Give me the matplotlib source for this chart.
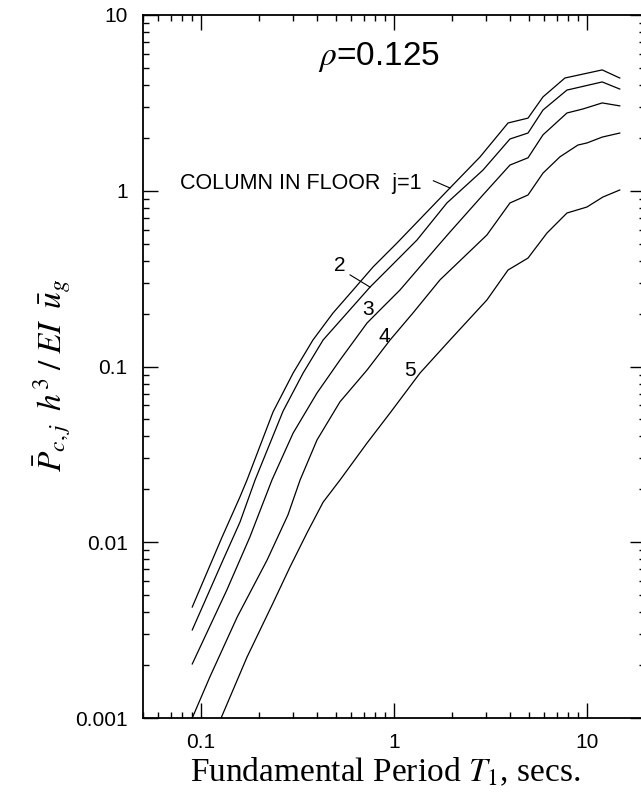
import matplotlib
matplotlib.use("Agg")
import matplotlib.pyplot as plt

# floor j = 1 .. 5
T_1 = [0.090, 0.128, 0.159, 0.173, 0.236, 0.300, 0.380, 0.483, 0.613, 0.778,
       1.036, 1.95, 2.79, 3.90, 4.95, 5.92, 7.69, 12.0, 14.8]
P_1 = [0.00428, 0.0106, 0.0181, 0.0226, 0.0551, 0.0918, 0.1415, 0.2016, 0.272, 0.368,
       0.504, 1.037, 1.556, 2.43, 2.59, 3.42, 4.38, 4.87, 4.38]

T_2 = [0.090, 0.130, 0.159, 0.1905, 0.266, 0.338, 0.429, 0.571, 0.751, 0.954,
       1.316, 1.88, 2.89, 3.99, 4.95, 5.92, 7.88, 12.0, 14.8]
P_2 = [0.00317, 0.00793, 0.0130, 0.0226, 0.0557, 0.0918, 0.1415, 0.2016, 0.283, 0.368,
       0.5245, 0.852, 1.31, 1.97, 2.13, 2.88, 3.74, 4.16, 3.79]

T_3 = [0.090, 0.136, 0.179, 0.233, 0.300, 0.399, 0.525, 0.725, 0.846, 1.074,
       1.670, 1.951, 2.89, 3.99, 4.95, 5.92, 7.88, 9.54, 12.0, 14.8]
P_3 = [0.00203, 0.00535, 0.0107, 0.0226, 0.0418, 0.0707, 0.1089, 0.1768, 0.2097, 0.2724,
       0.4786, 0.5826, 0.946, 1.40, 1.54, 2.08, 2.77, 2.92, 3.16, 3.04]

T_4 = [0.090, 0.111, 0.154, 0.220, 0.282, 0.326, 0.399, 0.525, 0.725, 0.954,
       1.254, 1.731, 3.03, 3.99, 4.95, 5.92, 7.25, 8.98, 10.0, 12.0, 14.8]
P_4 = [0.00100, 0.00171, 0.00376, 0.00793, 0.0143, 0.0226, 0.0382, 0.0630, 0.0955, 0.1415,
       0.2016, 0.311, 0.560, 0.852, 0.946, 1.26, 1.56, 1.82, 1.87, 2.02, 2.13]

T_5 = [0.127, 0.173, 0.236, 0.289, 0.354, 0.429, 0.525, 0.725, 0.954, 1.364,
       1.951, 3.03, 3.90, 4.95, 6.21, 7.88, 10.0, 12.1, 14.8]
P_5 = [0.00100, 0.00222, 0.00451, 0.00723, 0.0113, 0.0169, 0.0226, 0.0367, 0.0544, 0.0918,
       0.1415, 0.239, 0.354, 0.414, 0.575, 0.747, 0.808, 0.921, 1.01]

curves = [(T_1, P_1), (T_2, P_2), (T_3, P_3), (T_4, P_4), (T_5, P_5)]

plt.rcParams['font.family'] = ['Liberation Sans', 'DejaVu Sans']
plt.rcParams['mathtext.fontset'] = 'stix'

fig = plt.figure(figsize=(6.41, 8.02), dpi=100)
ax = fig.add_axes([143 / 641, 1 - 718 / 802, 502 / 641, 703 / 802])

for T, P in curves:
    ax.plot(T, P, color='black', lw=0.9)

ax.set_xscale('log')
ax.set_yscale('log')
ax.set_xlim(0.05, 20)
ax.set_ylim(0.001, 10)

ax.set_xticks([0.1, 1, 10])
ax.set_xticklabels(['0.1', '1', '10'])
ax.set_yticks([0.001, 0.01, 0.1, 1, 10])
ax.set_yticklabels(['0.001', '0.01', '0.1', '1', '10'])
ax.tick_params(which='both', direction='in', top=True, right=True, width=1, labelsize=15)
ax.tick_params(axis='x', which='major', length=11, pad=11)
ax.tick_params(axis='y', which='major', length=11, pad=11)
ax.tick_params(which='minor', length=4)
for sp in ax.spines.values():
    sp.set_linewidth(1.3)

# annotations
ax.text(0.47, 0.94, r'$\rho$' + '=0.125', transform=ax.transAxes, fontsize=24,
        ha='center', va='center')
ax.text(0.0778, 1.10, 'COLUMN IN FLOOR  j=1', fontsize=15.5, ha='left', va='center')
ax.plot([1.60, 1.951], [1.14, 1.037], color='black', lw=0.8)
ax.text(0.525, 0.378, '2', fontsize=15, ha='center', va='center')
ax.plot([0.592, 0.751], [0.332, 0.283], color='black', lw=0.8)
ax.text(0.733, 0.210, '3', fontsize=15, ha='center', va='center')
ax.text(0.888, 0.149, '4', fontsize=15, ha='center', va='center')
ax.text(1.21, 0.0955, '5', fontsize=15, ha='center', va='center')

fig.text(385 / 641, 1 - 772 / 802, r'Fundamental Period $T_1$, secs.', fontsize=24,
         family='Liberation Serif', ha='center', va='center')
fig.text(52 / 641, 1 - 375 / 802,
         r'$\bar{P}_{c,j}\;\;h^3\;/\;EI\;\;\bar{u}_g$', fontsize=24,
         rotation=90, ha='center', va='center')

fig.savefig('out.png', dpi=100)
